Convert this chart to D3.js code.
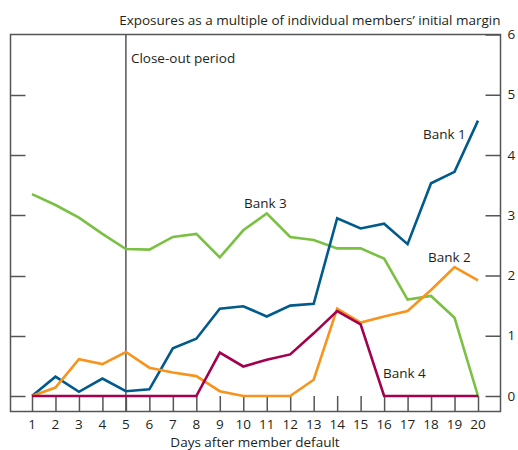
<!DOCTYPE html>
<html><head><meta charset="utf-8">
<script src="https://cdn.jsdelivr.net/npm/d3@7"></script>
<style>
body{margin:0;background:#fff;}
text{font-family:"Open Sans",sans-serif;fill:#231f20;}
</style></head>
<body><svg id="c" width="518" height="450"></svg>
<script>
const days = d3.range(1, 21);
const bank1 = [0,0.32,0.07,0.29,0.08,0.11,0.79,0.95,1.45,1.49,1.32,1.50,1.53,2.95,2.78,2.86,2.52,3.53,3.72,4.57];
const bank2 = [0,0.14,0.61,0.53,0.73,0.47,0.39,0.33,0.08,0,0,0,0.27,1.45,1.22,1.32,1.41,1.76,2.14,1.92];
const bank3 = [3.35,3.17,2.96,2.69,2.44,2.43,2.64,2.69,2.30,2.75,3.03,2.64,2.59,2.45,2.45,2.28,1.60,1.66,1.30,0];
const bank4 = [0,0,0,0,0,0,0,0,0.72,0.49,0.60,0.69,1.04,1.41,1.19,0,0,0,0,0];
const yTicks = [0,1,2,3,4,5,6];
const closeOutDay = 5;

const svg = d3.select("#c");
const x = d3.scaleLinear().domain([1,20]).range([32,478]);
const y = d3.scaleLinear().domain([0,6]).range([396,34.5]);
const L = 10.5, R = 500.5, T = 34.5, B = 411.5;
const grey = "#555";
const fs = 13.5;

// frame
svg.append("rect").attr("x",L).attr("y",T).attr("width",R-L).attr("height",B-T)
  .attr("fill","none").attr("stroke",grey).attr("stroke-width",1.5);

// left ticks
svg.append("g").selectAll("line").data(yTicks.slice(0,-1)).join("line")
  .attr("x1",L).attr("x2",L+15).attr("y1",d=>Math.round(y(d))+0.5).attr("y2",d=>Math.round(y(d))+0.5)
  .attr("stroke",grey).attr("stroke-width",1.5);
// right axis
const ra = svg.append("g").attr("transform",`translate(${R},0)`)
  .call(d3.axisLeft(y).tickValues(yTicks).tickSize(15).tickFormat(""));
ra.select(".domain").remove();
ra.selectAll("line").attr("stroke",grey).attr("stroke-width",1.5);
svg.append("g").selectAll("text").data(yTicks).join("text")
  .attr("x",R+7).attr("y",d=>y(d)).attr("dy","0.35em").attr("font-size",fs).text(d=>d);

// bottom ticks
const xa = svg.append("g").attr("transform",`translate(0,${B})`)
  .call(d3.axisTop(x).tickValues(days).tickSize(B-y(0)).tickFormat(""));
xa.select(".domain").remove();
xa.selectAll("line").attr("stroke",grey).attr("stroke-width",1.5);
svg.append("g").selectAll("text").data(days).join("text")
  .attr("x",d=>x(d)).attr("y",B+17).attr("text-anchor","middle").attr("font-size",fs).text(d=>d);

// close-out line
svg.append("line").attr("x1",x(closeOutDay)).attr("x2",x(closeOutDay)).attr("y1",T).attr("y2",B)
  .attr("stroke",grey).attr("stroke-width",1.5);
svg.append("text").attr("x",x(closeOutDay)+5).attr("y",63).attr("font-size",fs).text("Close-out period");

// titles
svg.append("text").attr("x",R).attr("y",25).attr("text-anchor","end").attr("font-size",fs)
  .text("Exposures as a multiple of individual members’ initial margin");
svg.append("text").attr("x",(x(1)+x(20))/2).attr("y",B+35.5).attr("text-anchor","middle").attr("font-size",fs)
  .text("Days after member default");

// lines
const line = d3.line().x((d,i)=>x(days[i])).y(d=>y(d));
const series = [
  {v:bank3,c:"#7ac143"},
  {v:bank1,c:"#005a8c"},
  {v:bank2,c:"#f7941d"},
  {v:bank4,c:"#a3004e"}
];
series.forEach(s=>{
  svg.append("path").datum(s.v).attr("d",line).attr("fill","none")
    .attr("stroke",s.c).attr("stroke-width",2.6).attr("stroke-linejoin","miter");
});

// labels
const labels = [
  {t:"Bank 1",x:423,y:139},
  {t:"Bank 3",x:244,y:208},
  {t:"Bank 2",x:428,y:262},
  {t:"Bank 4",x:383,y:378}
];
svg.append("g").selectAll("text").data(labels).join("text")
  .attr("x",d=>d.x).attr("y",d=>d.y).attr("font-size",fs).text(d=>d.t);
</script></body></html>
